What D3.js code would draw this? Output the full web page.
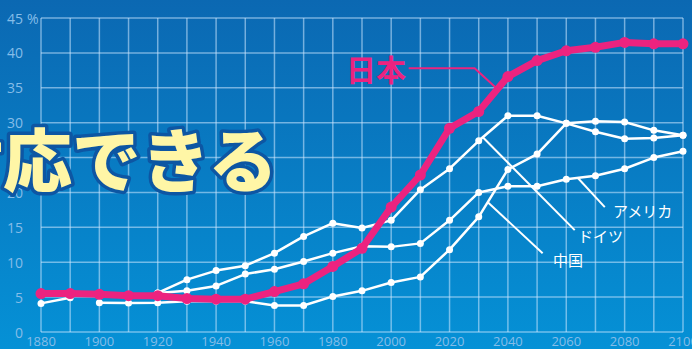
<!DOCTYPE html>
<meta charset="utf-8">
<script src="https://d3js.org/d3.v7.min.js"></script>
<style>
  body { margin: 0; background: #0a7cc4; }
  svg { display: block; }
</style>
<div id="chart"></div>
<script>
  // decades on the x axis
  const years = d3.range(1880, 2101, 10);
  const yTicks = [0, 5, 10, 15, 20, 25, 30, 35, 40, 45];
  const xTicks = d3.range(1880, 2101, 20);

  // share of population aged 65+ (%), null = no point
  const japan   = [5.5, 5.5, 5.4, 5.2, 5.2, 4.8, 4.7, 4.7, 5.8, 6.9, 9.4, 12.0, 17.9, 22.5, 29.2, 31.6, 36.6, 38.9, 40.3, 40.8, 41.5, 41.3, 41.3];
  const germany = [4.1, 4.9, null, null, 5.6, 7.5, 8.8, 9.5, 11.3, 13.7, 15.6, 14.9, 16.0, 20.4, 23.4, 27.4, 31.0, 31.0, 29.9, 28.7, 27.7, 27.8, 28.2];
  const america = [null, null, null, null, 5.6, 5.9, 6.6, 8.3, 9.0, 10.1, 11.3, 12.3, 12.2, 12.7, 16.0, 20.0, 20.9, 20.9, 21.9, 22.4, 23.4, 25.0, 25.9];
  const china   = [null, null, 4.2, 4.15, 4.2, 4.4, 4.4, 4.4, 3.8, 3.8, 5.1, 5.9, 7.1, 7.9, 11.8, 16.5, 23.3, 25.5, 29.9, 30.2, 30.1, 28.9, 28.2];

  const width = 692, height = 349;

  const svg = d3.select("#chart").append("svg")
    .attr("width", width)
    .attr("height", height);

  // background gradient
  const grad = svg.append("defs").append("linearGradient")
    .attr("id", "bg").attr("x1", 0).attr("y1", 0).attr("x2", 0).attr("y2", 1);
  grad.append("stop").attr("offset", "0%").attr("stop-color", "#0b68b2");
  grad.append("stop").attr("offset", "100%").attr("stop-color", "#0591d6");
  svg.append("rect").attr("width", width).attr("height", height).attr("fill", "url(#bg)");

  const x = d3.scaleLinear().domain([1880, 2100]).range([41, 683]);
  const y = d3.scaleLinear().domain([0, 45]).range([332, 18]);

  // grid
  const grid = svg.append("g")
    .attr("stroke", "rgba(205,232,255,0.55)")
    .attr("stroke-width", 1.5);
  grid.selectAll(".v").data(years).join("line")
    .attr("x1", d => x(d)).attr("x2", d => x(d))
    .attr("y1", y(45)).attr("y2", y(0));
  grid.selectAll(".h").data(yTicks).join("line")
    .attr("x1", x(1880)).attr("x2", x(2100))
    .attr("y1", d => y(d)).attr("y2", d => y(d));

  // axis labels
  const labelColor = "#85bde8";
  svg.append("g").selectAll("text").data(yTicks).join("text")
    .attr("x", 23).attr("y", d => y(d))
    .attr("text-anchor", "end").attr("dominant-baseline", "central")
    .attr("font-family", "Open Sans, sans-serif").attr("font-size", 14)
    .attr("fill", labelColor)
    .text(d => d);
  svg.append("text")
    .attr("x", 27).attr("y", y(45))
    .attr("dominant-baseline", "central")
    .attr("font-family", "Open Sans, sans-serif").attr("font-size", 14)
    .attr("fill", labelColor).text("%");
  svg.append("g").selectAll("text").data(xTicks).join("text")
    .attr("x", d => x(d)).attr("y", 341)
    .attr("text-anchor", "middle").attr("dominant-baseline", "central")
    .attr("font-family", "Open Sans, sans-serif").attr("font-size", 13)
    .attr("fill", labelColor)
    .text(d => d);

  const line = d3.line()
    .defined(d => d[1] != null)
    .x(d => x(d[0])).y(d => y(d[1]));

  function drawSeries(values, color, lw, r) {
    const pts = years.map((yr, i) => [yr, values[i]]);
    svg.append("path").datum(pts)
      .attr("fill", "none").attr("stroke", color)
      .attr("stroke-width", lw).attr("stroke-linejoin", "round")
      .attr("d", line);
    svg.append("g").selectAll("circle").data(pts.filter(d => d[1] != null)).join("circle")
      .attr("cx", d => x(d[0])).attr("cy", d => y(d[1]))
      .attr("r", r).attr("fill", color);
  }

  // leader lines (in data coordinates)
  function leader(pts, color, w) {
    svg.append("path").datum(pts)
      .attr("fill", "none").attr("stroke", color).attr("stroke-width", w)
      .attr("d", line);
  }
  const white = "#ffffff", pink = "#ec237f";

  leader([[2063.9, 22.1], [2073.2, 17.9]], white, 2);
  leader([[2031.4, 27.9], [2062.9, 14.6]], white, 2);
  leader([[2033.1, 18.6], [2051.9, 11.3]], white, 2);

  drawSeries(china, white, 2.5, 3.5);
  drawSeries(america, white, 2.5, 3.5);
  drawSeries(germany, white, 2.5, 3.5);
  drawSeries(japan, pink, 7, 5.5);

  leader([[2006, 37.8], [2028.6, 37.8], [2035.9, 35]], pink, 2);

  // series labels
  const lab = svg.append("g").attr("font-family", "Noto Sans CJK JP, sans-serif");
  lab.append("text").attr("x", 346).attr("y", 68).attr("dominant-baseline", "central")
    .attr("font-size", 30).attr("font-weight", 700).attr("fill", pink).text("日本");
  lab.append("text").attr("x", 613).attr("y", 210).attr("dominant-baseline", "central")
    .attr("font-size", 15).attr("fill", white).text("アメリカ");
  lab.append("text").attr("x", 578).attr("y", 235).attr("dominant-baseline", "central")
    .attr("font-size", 15).attr("fill", white).text("ドイツ");
  lab.append("text").attr("x", 553).attr("y", 259).attr("dominant-baseline", "central")
    .attr("font-size", 15).attr("fill", white).text("中国");

  // big overlay caption (cut at the left edge)
  svg.append("text")
    .attr("x", -66).attr("y", 157).attr("dominant-baseline", "central")
    .attr("font-family", "Noto Sans CJK JP, sans-serif")
    .attr("font-size", 69).attr("font-weight", 900)
    .attr("fill", "#fff6a6").attr("stroke", "#0d56a3").attr("stroke-width", 7)
    .attr("stroke-linejoin", "round").attr("paint-order", "stroke")
    .text("対応できる");
</script>
